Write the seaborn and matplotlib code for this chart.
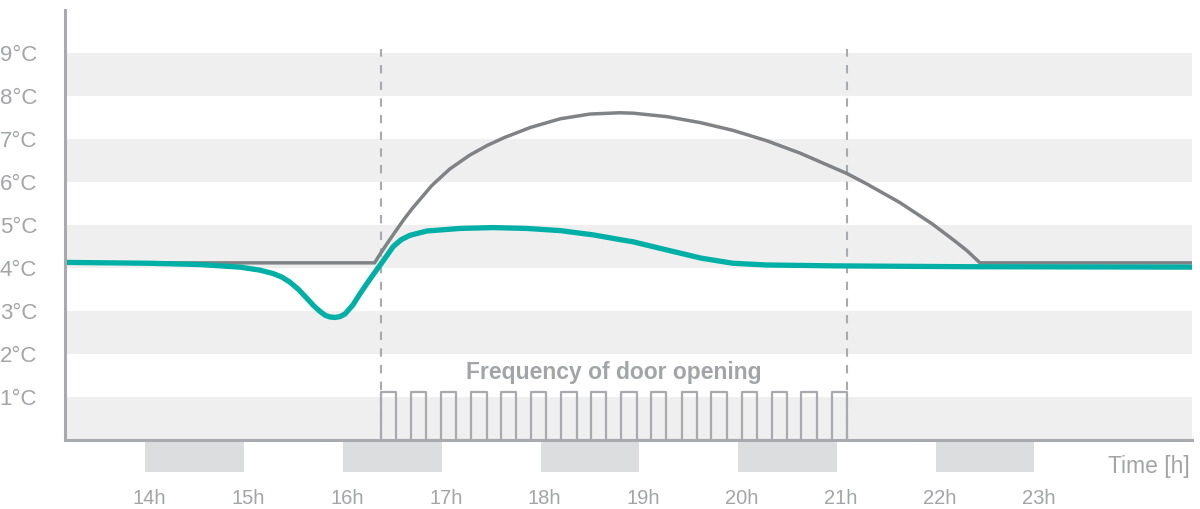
import numpy as np
import pandas as pd
import seaborn as sns
import matplotlib.pyplot as plt
import matplotlib.transforms as mtransforms

# -------------------- DATA --------------------
# curves (hours, degrees C)
teal_h = [13.185, 14.046, 14.552, 14.957, 15.16, 15.294, 15.38, 15.463, 15.55, 15.632,
          15.7, 15.767, 15.82, 15.87, 15.919, 15.97, 16.02, 16.1, 16.172, 16.24,
          16.307, 16.408, 16.509, 16.59, 16.678, 16.848, 17.185, 17.522, 17.86, 18.197,
          18.535, 18.805, 18.937, 19.278, 19.625, 19.949, 20.29, 20.962, 22.31, 24.597]
teal_t = [4.13, 4.11, 4.08, 4.02, 3.95, 3.87, 3.79, 3.67, 3.5, 3.3,
          3.13, 2.99, 2.9, 2.86, 2.85, 2.87, 2.93, 3.14, 3.4, 3.63,
          3.85, 4.17, 4.5, 4.66, 4.76, 4.86, 4.92, 4.94, 4.92, 4.87,
          4.77, 4.66, 4.61, 4.42, 4.23, 4.11, 4.07, 4.05, 4.03, 4.02]

gray_h = [13.185, 16.32, 16.38, 16.45, 16.54, 16.62, 16.7, 16.8, 16.9, 17.08, 17.28,
          17.46, 17.63, 17.9, 18.2, 18.5, 18.8, 18.94, 19.28, 19.62, 19.95, 20.29,
          20.63, 21.1, 21.3, 21.64, 21.97, 22.2, 22.32, 22.45, 24.597]
gray_t = [4.12, 4.12, 4.34, 4.58, 4.88, 5.14, 5.38, 5.65, 5.92, 6.3, 6.62,
          6.85, 7.03, 7.27, 7.47, 7.58, 7.61, 7.6, 7.52, 7.38, 7.2, 6.96,
          6.67, 6.2, 5.96, 5.52, 5.02, 4.62, 4.4, 4.12, 4.12]

door_open_times = [16.385, 16.69, 16.99, 17.3, 17.6, 17.9, 18.21, 18.51,
                   18.82, 19.12, 19.43, 19.73, 20.04, 20.34, 20.64, 20.95]
door_width = 0.155
door_height = 1.12

dashed_h = [16.385, 21.104]
band_starts = [0, 2, 4, 6, 8]
box_starts = [14, 16, 18, 20, 22]
hours = list(range(14, 24))
hour_labels = [f"{h}h" for h in hours]
temp_ticks = list(range(1, 10))
temp_labels = [f"{t}°C" for t in temp_ticks]

# -------------------- STYLE --------------------
sns.set_style("white")
plt.rcParams['font.family'] = ['Liberation Sans', 'DejaVu Sans']

TEAL = "#00afa5"
LINE_GRAY = "#808285"
AXIS_GRAY = "#a8aaad"
TEXT_GRAY = "#a2a4a7"
BAND = "#eeefee"
BOX = "#dcdddf"

W, H = 1200, 509
fig = plt.figure(figsize=(12, 5.09), dpi=100)
ax = fig.add_axes([65 / W, 1 - 440 / H, (1192 - 65) / W, 430 / H])
ax_t = fig.add_axes([65 / W, 1 - 472 / H, (1192 - 65) / W, 30 / H])

xlim = (13.185, 24.597)

# bands
for b in band_starts:
    ax.axhspan(b, b + 1, color=BAND, lw=0, zorder=0)

# dashed markers
for d in dashed_h:
    ax.plot([d, d], [0, 9.1], color=AXIS_GRAY, lw=1.5, ls=(0, (4, 4)), zorder=1)

# door pulses
px, py = [], []
for t in door_open_times:
    px += [t, t, t + door_width, t + door_width]
    py += [0, door_height, door_height, 0]
ax.plot(px, py, color=AXIS_GRAY, lw=1.6, zorder=2)

gray_df = pd.DataFrame({"h": gray_h, "t": gray_t})
teal_df = pd.DataFrame({"h": teal_h, "t": teal_t})
sns.lineplot(data=gray_df, x="h", y="t", ax=ax, color=LINE_GRAY, lw=2.5, sort=False, zorder=3)
sns.lineplot(data=teal_df, x="h", y="t", ax=ax, color=TEAL, lw=3.8, sort=False, zorder=4)

ax.text(18.74, 1.56, "Frequency of door opening", ha="center", va="center",
        fontsize=16.5, fontweight="bold", color=TEXT_GRAY)

ax.set_xlim(*xlim)
ax.set_ylim(0, 10)
ax.set_xticks([])
ax.set_yticks(temp_ticks)
ax.set_yticklabels(temp_labels, fontsize=16, color=TEXT_GRAY)
ax.tick_params(axis="y", length=0, pad=20)
ax.set_xlabel("")
ax.set_ylabel("")
for s in ["top", "right"]:
    ax.spines[s].set_visible(False)
for s in ["left", "bottom"]:
    ax.spines[s].set_color(AXIS_GRAY)
    ax.spines[s].set_linewidth(2.2)
    ax.spines[s].set_zorder(5)

# time boxes under the axis
for b in box_starts:
    ax_t.axvspan(b, b + 1, color=BOX, lw=0)
ax_t.set_xlim(*xlim)
ax_t.set_ylim(0, 1)
ax_t.set_yticks([])
ax_t.set_xticks(hours)
ax_t.set_xticklabels(hour_labels, fontsize=14.5, color=TEXT_GRAY)
ax_t.tick_params(axis="x", length=0, pad=12)
shift = mtransforms.ScaledTranslation(4 / 100, 0, fig.dpi_scale_trans)
for lbl in ax_t.get_xticklabels():
    lbl.set_transform(lbl.get_transform() + shift)
for s in ax_t.spines.values():
    s.set_visible(False)

fig.text(1190 / W, 1 - 466 / H, "Time [h]", ha="right", va="center",
         fontsize=16.5, color=TEXT_GRAY)

plt.savefig("out.png", dpi=100)
plt.close()
